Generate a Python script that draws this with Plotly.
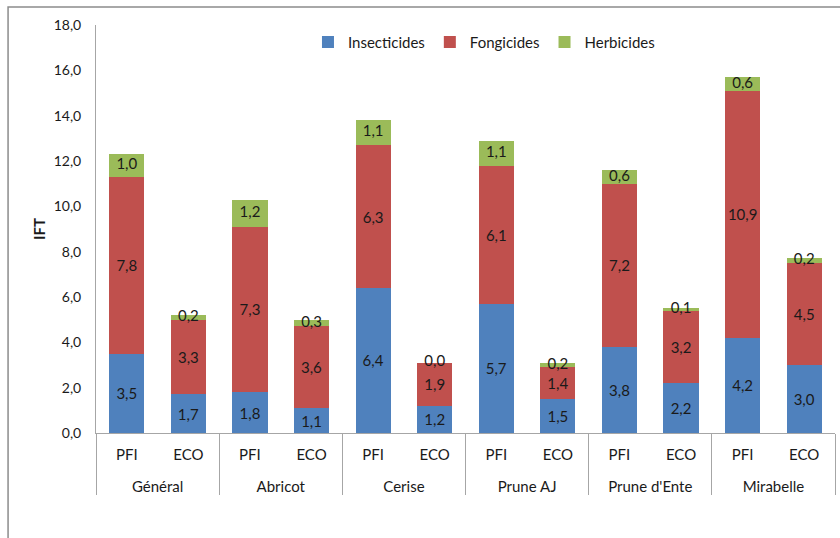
import plotly.graph_objects as go

groups = ["Général", "Abricot", "Cerise", "Prune AJ", "Prune d'Ente", "Mirabelle"]
systems = ["PFI", "ECO"]

insecticides = [3.5, 1.7, 1.8, 1.1, 6.4, 1.2, 5.7, 1.5, 3.8, 2.2, 4.2, 3.0]
fongicides = [7.8, 3.3, 7.3, 3.6, 6.3, 1.9, 6.1, 1.4, 7.2, 3.2, 10.9, 4.5]
herbicides = [1.0, 0.2, 1.2, 0.3, 1.1, 0.0, 1.1, 0.2, 0.6, 0.1, 0.6, 0.2]

x_outer = [g for g in groups for _ in systems]
# a blank second line pushes the group row further down, like Excel
x_inner = [s + "<br> " for _ in groups for s in systems]
x = [x_outer, x_inner]

font_family = "Lato, 'Open Sans', sans-serif"
txt_color = "#1a1a1a"


def fmt(v):
    return f"{v:.1f}".replace(".", ",")


fig = go.Figure()
for name, vals, color in [
    ("Insecticides", insecticides, "#4F81BD"),
    ("Fongicides", fongicides, "#C0504D"),
]:
    fig.add_bar(
        x=x, y=vals, name=name,
        marker=dict(color=color, line=dict(width=0)),
        text=[fmt(v) for v in vals],
        textposition="inside",
        insidetextanchor="middle",
        textangle=0,
        constraintext="none",
        textfont=dict(family=font_family, size=15, color=txt_color),
    )

fig.add_bar(
    x=x, y=herbicides, name="Herbicides",
    marker=dict(color="#9BBB59", line=dict(width=0)),
    hoverinfo="y",
)

# labels for the thin herbicide segments, centred on the segment
tops = [a + b + h / 2 for a, b, h in zip(insecticides, fongicides, herbicides)]
fig.add_scatter(
    x=x, y=tops, mode="text",
    text=[fmt(v) for v in herbicides],
    textposition="middle center",
    textfont=dict(family=font_family, size=15, color=txt_color),
    showlegend=False, hoverinfo="skip",
)

fig.update_layout(
    width=840,
    height=538,
    barmode="stack",
    bargap=0.43,
    separators=", ",
    margin=dict(l=96, r=5, t=25, b=105),
    plot_bgcolor="white",
    paper_bgcolor="white",
    font=dict(family=font_family, size=15, color=txt_color),
    legend=dict(
        orientation="h",
        x=0.525, xanchor="center",
        y=0.958, yanchor="middle",
        font=dict(size=15),
        traceorder="normal",
        itemwidth=30,
    ),
    shapes=[
        dict(type="rect", xref="paper", yref="paper",
             x0=-0.119, x1=1.2, y0=-0.5, y1=1.044,
             line=dict(color="#8c8c8c", width=1.5)),
    ],
)
fig.update_xaxes(
    type="multicategory",
    automargin=False,
    range=[-0.5, len(x_outer) - 0.5],
    showline=True, linecolor="#a6a6a6", linewidth=1,
    showgrid=False,
    ticklabelstandoff=8,
    showdividers=True, dividercolor="#a6a6a6", dividerwidth=1,
    tickfont=dict(family=font_family, size=15, color=txt_color),
)
fig.update_yaxes(
    automargin=False,
    range=[0, 18], dtick=2, tickformat=".1f",
    showline=True, linecolor="#a6a6a6", linewidth=1,
    showgrid=False, zeroline=False,
    ticks="", ticklabelstandoff=11,
    title=dict(text="<b>IFT</b>", standoff=4, font=dict(size=15)),
    tickfont=dict(family=font_family, size=14, color=txt_color),
)

fig.write_html(
    "out.html",
    config={"displayModeBar": False},
    post_script="document.body.style.margin='0';document.body.style.overflow='hidden';",
)
